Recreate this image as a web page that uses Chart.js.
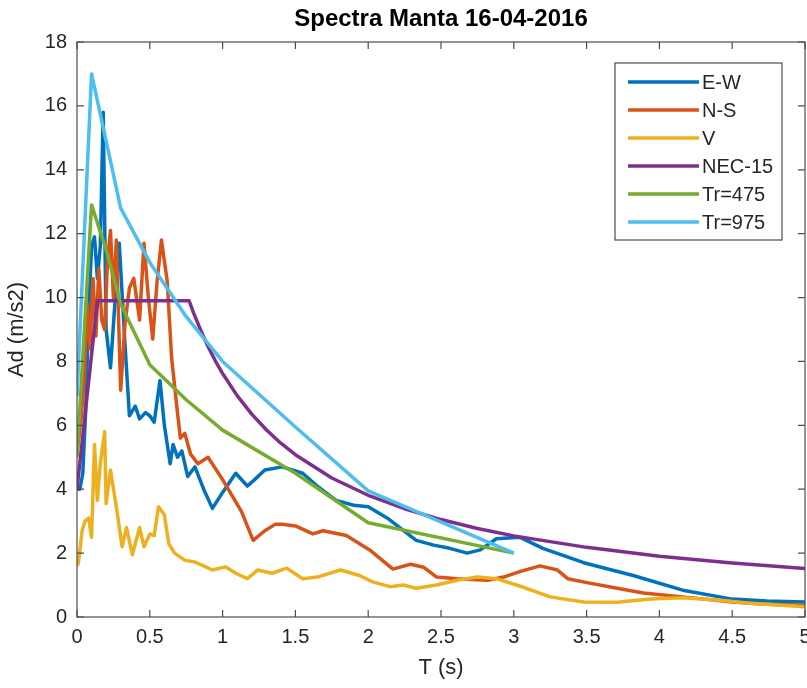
<!DOCTYPE html>
<html>
<head>
<meta charset="utf-8">
<script src="https://cdn.jsdelivr.net/npm/chart.js@4.4.1/dist/chart.umd.min.js"></script>
<style>
  html, body { margin: 0; padding: 0; background: #ffffff; }
  #spectra { display: block; }
</style>
</head>
<body>
<canvas id="spectra" width="807" height="688"></canvas>
<script>
// Periods (s) and spectral values (m/s2)
const ewT = [0, 0.02, 0.04, 0.06, 0.08, 0.1, 0.12, 0.14, 0.16, 0.18, 0.2, 0.23, 0.26, 0.29, 0.33, 0.36, 0.4, 0.43, 0.47, 0.5, 0.53, 0.57, 0.6, 0.64, 0.66, 0.69, 0.72, 0.76, 0.81, 0.87, 0.93, 1.0, 1.09, 1.17, 1.22, 1.29, 1.41, 1.55, 1.65, 1.78, 1.9, 2.0, 2.13, 2.33, 2.45, 2.56, 2.68, 2.77, 2.88, 3.04, 3.2, 3.48, 3.82, 4.16, 4.5, 4.74, 5.0];
const ewA = [4.0, 4.0, 4.5, 6.5, 9.5, 11.6, 11.9, 10.6, 11.6, 15.8, 9.0, 7.8, 9.8, 11.7, 8.5, 6.3, 6.6, 6.2, 6.4, 6.3, 6.1, 7.4, 6.0, 4.8, 5.4, 5.0, 5.2, 4.4, 4.7, 4.0, 3.4, 3.9, 4.5, 4.1, 4.3, 4.6, 4.7, 4.5, 4.1, 3.65, 3.5, 3.45, 3.1, 2.4, 2.25, 2.15, 2.0, 2.1, 2.45, 2.5, 2.15, 1.7, 1.3, 0.84, 0.56, 0.5, 0.47];

const nsT = [0, 0.03, 0.05, 0.07, 0.09, 0.11, 0.13, 0.15, 0.17, 0.19, 0.21, 0.23, 0.25, 0.27, 0.3, 0.33, 0.36, 0.39, 0.43, 0.46, 0.49, 0.52, 0.55, 0.58, 0.62, 0.65, 0.69, 0.71, 0.74, 0.78, 0.83, 0.9, 1.0, 1.13, 1.21, 1.29, 1.36, 1.41, 1.5, 1.62, 1.69, 1.85, 2.01, 2.17, 2.29, 2.38, 2.47, 2.61, 2.82, 2.93, 3.04, 3.18, 3.3, 3.37, 3.52, 3.71, 3.89, 4.16, 4.5, 4.74, 5.0];
const nsA = [5.1, 6.3, 7.5, 9.8, 8.4, 10.6, 8.8, 10.9, 9.3, 9.0, 11.2, 12.1, 10.0, 11.8, 7.1, 9.2, 10.3, 10.6, 9.3, 11.7, 10.0, 8.7, 10.5, 11.8, 10.5, 8.1, 6.4, 5.6, 5.75, 5.1, 4.8, 5.0, 4.3, 3.3, 2.4, 2.7, 2.9, 2.9, 2.85, 2.6, 2.7, 2.55, 2.1, 1.5, 1.65, 1.56, 1.25, 1.2, 1.15, 1.25, 1.42, 1.6, 1.47, 1.2, 1.06, 0.9, 0.75, 0.63, 0.47, 0.4, 0.37];

const vT = [0, 0.01, 0.035, 0.055, 0.08, 0.1, 0.12, 0.14, 0.16, 0.19, 0.2, 0.23, 0.27, 0.31, 0.34, 0.38, 0.43, 0.46, 0.5, 0.53, 0.56, 0.6, 0.63, 0.67, 0.74, 0.81, 0.87, 0.93, 1.02, 1.09, 1.17, 1.24, 1.34, 1.44, 1.55, 1.65, 1.81, 1.94, 2.03, 2.15, 2.24, 2.33, 2.47, 2.61, 2.75, 2.88, 3.04, 3.25, 3.48, 3.71, 3.94, 4.16, 4.4, 4.62, 5.0];
const vA = [1.6, 1.7, 2.7, 3.0, 3.1, 2.5, 5.4, 3.65, 4.8, 5.8, 3.55, 4.6, 3.45, 2.2, 2.8, 1.95, 2.8, 2.2, 2.6, 2.55, 3.45, 3.2, 2.3, 2.0, 1.78, 1.72, 1.6, 1.47, 1.57, 1.37, 1.2, 1.47, 1.37, 1.53, 1.2, 1.25, 1.47, 1.3, 1.1, 0.95, 1.0, 0.9, 1.0, 1.15, 1.25, 1.2, 0.97, 0.63, 0.47, 0.46, 0.56, 0.6, 0.53, 0.43, 0.32];

const necT = [0, 0.14, 0.77, 0.8, 0.85, 0.9, 0.95, 1.0, 1.1, 1.2, 1.3, 1.4, 1.5, 1.75, 2.0, 2.25, 2.5, 2.75, 3.0, 3.5, 4.0, 4.5, 5.0];
const necA = [4.0, 9.9, 9.9, 9.53, 8.97, 8.47, 8.02, 7.62, 6.93, 6.35, 5.86, 5.44, 5.08, 4.35, 3.81, 3.39, 3.05, 2.77, 2.54, 2.18, 1.9, 1.69, 1.52];

const tr475T = [0, 0.1, 0.2, 0.3, 0.5, 0.75, 1.0, 1.5, 2.0, 3.0];
const tr475A = [5.0, 12.9, 11.5, 9.8, 7.9, 6.8, 5.85, 4.5, 2.95, 2.0];

const tr975T = [0, 0.1, 0.3, 0.5, 0.75, 1.0, 1.5, 2.0, 3.0];
const tr975A = [6.9, 17.0, 12.8, 11.1, 9.4, 8.0, 5.95, 3.95, 2.0];

const seriesNames = ['E-W', 'N-S', 'V', 'NEC-15', 'Tr=475', 'Tr=975'];
const seriesColors = ['#0072BD', '#D95319', '#EDB120', '#7E2F8E', '#77AC30', '#4DBEEE'];
const xTicks = [0, 0.5, 1, 1.5, 2, 2.5, 3, 3.5, 4, 4.5, 5];
const yTicks = [0, 2, 4, 6, 8, 10, 12, 14, 16, 18];

const FONT = "'Liberation Sans', Arial, Helvetica, sans-serif";
const AXIS_GRAY = '#262626';

const allT = [ewT, nsT, vT, necT, tr475T, tr975T];
const allA = [ewA, nsA, vA, necA, tr475A, tr975A];

const toPoints = (ts, vs) => ts.map((t, i) => ({ x: t, y: vs[i] }));

// MATLAB style box with inward ticks on all four sides
const boxTicks = {
  id: 'boxTicks',
  afterDatasetsDraw(chart) {
    const { ctx, chartArea: a, scales: { x, y } } = chart;
    const len = 7;
    ctx.save();
    ctx.strokeStyle = '#4d4d4d';
    ctx.lineWidth = 1.2;
    ctx.beginPath();
    x.ticks.forEach(t => {
      const px = x.getPixelForValue(t.value);
      ctx.moveTo(px, a.bottom); ctx.lineTo(px, a.bottom - len);
      ctx.moveTo(px, a.top); ctx.lineTo(px, a.top + len);
    });
    y.ticks.forEach(t => {
      const py = y.getPixelForValue(t.value);
      ctx.moveTo(a.left, py); ctx.lineTo(a.left + len, py);
      ctx.moveTo(a.right, py); ctx.lineTo(a.right - len, py);
    });
    ctx.stroke();
    ctx.strokeRect(a.left, a.top, a.right - a.left, a.bottom - a.top);
    ctx.restore();
  }
};

// Boxed legend in the upper right corner
const boxLegend = {
  id: 'boxLegend',
  afterDraw(chart) {
    const { ctx, chartArea: a } = chart;
    const w = 167, h = 177, rowH = 28;
    const left = a.right - 23 - w, top = a.top + 21;
    ctx.save();
    ctx.fillStyle = '#ffffff';
    ctx.fillRect(left, top, w, h);
    ctx.strokeStyle = '#4d4d4d';
    ctx.lineWidth = 1.2;
    ctx.strokeRect(left, top, w, h);
    ctx.font = '20px ' + FONT;
    ctx.textBaseline = 'middle';
    ctx.textAlign = 'left';
    chart.data.datasets.forEach((ds, i) => {
      const yy = top + 19 + i * rowH;
      ctx.strokeStyle = ds.borderColor;
      ctx.lineWidth = 3.5;
      ctx.beginPath();
      ctx.moveTo(left + 13, yy);
      ctx.lineTo(left + 84, yy);
      ctx.stroke();
      ctx.fillStyle = AXIS_GRAY;
      ctx.fillText(ds.label, left + 87, yy + 1);
    });
    ctx.restore();
  }
};

new Chart(document.getElementById('spectra'), {
  type: 'line',
  data: {
    datasets: seriesNames.map((name, i) => ({
      label: name,
      data: toPoints(allT[i], allA[i]),
      borderColor: seriesColors[i],
      backgroundColor: seriesColors[i],
      borderWidth: 3.5,
      borderJoinStyle: 'round',
      pointRadius: 0,
      tension: 0,
      order: seriesNames.length - i
    }))
  },
  options: {
    responsive: false,
    animation: false,
    devicePixelRatio: 1,
    layout: { padding: { left: 0, right: 2, top: 0, bottom: 0 } },
    plugins: {
      legend: { display: false },
      tooltip: { enabled: false },
      title: {
        display: true,
        text: 'Spectra Manta 16-04-2016',
        fullSize: false,
        color: '#000000',
        font: { family: FONT, size: 24, weight: 'bold' },
        padding: { top: 5, bottom: 8.2 }
      }
    },
    scales: {
      x: {
        type: 'linear',
        min: 0,
        max: 5,
        grid: { display: false, drawTicks: false },
        border: { display: false },
        afterBuildTicks: s => { s.ticks = xTicks.map(v => ({ value: v })); },
        afterFit: s => { s.height = 71; s.paddingLeft = 0; s.paddingRight = 0; },
        ticks: {
          color: AXIS_GRAY,
          padding: 8,
          maxRotation: 0,
          autoSkip: false,
          font: { family: FONT, size: 20 },
          callback: v => String(v)
        },
        title: {
          display: true,
          text: 'T (s)',
          color: AXIS_GRAY,
          font: { family: FONT, size: 22 },
          padding: { top: 0, bottom: 6.8 }
        }
      },
      y: {
        type: 'linear',
        min: 0,
        max: 18,
        grid: { display: false, drawTicks: false },
        border: { display: false },
        afterBuildTicks: s => { s.ticks = yTicks.map(v => ({ value: v })); },
        afterFit: s => { s.width = 77; },
        ticks: {
          color: AXIS_GRAY,
          padding: 10,
          autoSkip: false,
          font: { family: FONT, size: 20 },
          callback: v => String(v)
        },
        title: {
          display: true,
          text: 'Ad (m/s2)',
          color: AXIS_GRAY,
          font: { family: FONT, size: 22 },
          padding: { top: 4, bottom: 0 }
        }
      }
    }
  },
  plugins: [boxTicks, boxLegend]
});
</script>
</body>
</html>
